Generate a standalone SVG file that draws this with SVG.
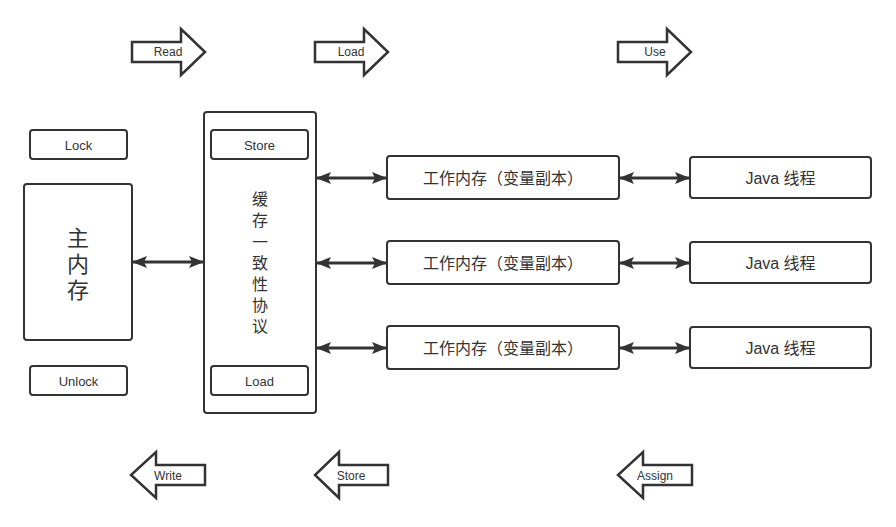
<svg xmlns="http://www.w3.org/2000/svg" width="896" height="527" viewBox="0 0 896 527">
<style>
.box{fill:#fff;stroke:#333;stroke-width:2}
.big{fill:#fff;stroke:#333;stroke-width:2.5;stroke-linejoin:miter}
.t{font-family:"Liberation Sans","Noto Sans CJK SC",sans-serif;fill:#333;text-anchor:middle;dominant-baseline:central}
.s{font-size:13px}
.a{font-size:12px}
.m{font-size:16px}
.c{stroke:#333;stroke-width:3;fill:none;marker-start:url(#ah);marker-end:url(#ah)}
</style>
<defs>
<marker id="ah" viewBox="0 0 15 12" refX="14" refY="6" markerWidth="15" markerHeight="12" markerUnits="userSpaceOnUse" orient="auto-start-reverse">
<path d="M0,0 L15,6 L0,12 L3,6 z" fill="#333"/>
</marker>
</defs>
<rect width="896" height="527" fill="#fff"/>

<g id="arrow-read"><path class="big" d="M132,42 H181 V29 L205,52 L181,75 V62 H132 Z"/><text class="t a" x="168" y="52">Read</text></g>
<g id="arrow-load"><path class="big" d="M315,42 H364 V29 L388,52 L364,75 V62 H315 Z"/><text class="t a" x="351" y="52">Load</text></g>
<g id="arrow-use"><path class="big" d="M618,42 H667 V29 L691,52 L667,75 V62 H618 Z"/><text class="t a" x="655" y="52">Use</text></g>

<g id="arrow-write"><path class="big" d="M205,465 H156 V452 L131,475 L156,498 V485 H205 Z"/><text class="t a" x="168" y="476">Write</text></g>
<g id="arrow-store"><path class="big" d="M388,465 H339 V452 L315,475 L339,498 V485 H388 Z"/><text class="t a" x="351" y="476">Store</text></g>
<g id="arrow-assign"><path class="big" d="M692,465 H643 V452 L618,475 L643,498 V485 H692 Z"/><text class="t a" x="655" y="476">Assign</text></g>

<g id="lock"><rect class="box" x="30" y="130" width="97" height="29" rx="3"/><text class="t s" x="78.5" y="145">Lock</text></g>
<g id="main-memory"><rect class="box" x="24" y="184" width="108" height="156" rx="3"/>
<text class="t" style="font-size:22px" x="78" y="238">主</text>
<text class="t" style="font-size:22px" x="78" y="264">内</text>
<text class="t" style="font-size:22px" x="78" y="290">存</text></g>
<g id="unlock"><rect class="box" x="30" y="366" width="97" height="29" rx="3"/><text class="t s" x="78.5" y="381">Unlock</text></g>

<g id="cache-protocol"><rect class="box" x="204" y="112" width="112" height="301" rx="3"/>
<text class="t m" x="260" y="199">缓</text>
<text class="t m" x="260" y="220">存</text>
<text class="t m" x="260" y="242">一</text>
<text class="t m" x="260" y="263">致</text>
<text class="t m" x="260" y="284">性</text>
<text class="t m" x="260" y="305">协</text>
<text class="t m" x="260" y="326">议</text></g>
<g id="store"><rect class="box" x="211" y="130" width="97" height="29" rx="3"/><text class="t s" x="259.5" y="145">Store</text></g>
<g id="load"><rect class="box" x="211" y="366" width="97" height="29" rx="3"/><text class="t s" x="259.5" y="381">Load</text></g>

<g id="work1"><rect class="box" x="387" y="156" width="232" height="43" rx="3"/><text class="t m" x="503" y="178">工作内存（变量副本）</text></g>
<g id="work2"><rect class="box" x="387" y="241" width="232" height="43" rx="3"/><text class="t m" x="503" y="263">工作内存（变量副本）</text></g>
<g id="work3"><rect class="box" x="387" y="326" width="232" height="43" rx="3"/><text class="t m" x="503" y="348">工作内存（变量副本）</text></g>

<g id="java1"><rect class="box" x="690" y="157" width="181" height="41" rx="3"/><text class="t m" x="780.5" y="178">Java 线程</text></g>
<g id="java2"><rect class="box" x="690" y="242" width="181" height="41" rx="3"/><text class="t m" x="780.5" y="263">Java 线程</text></g>
<g id="java3"><rect class="box" x="690" y="327" width="181" height="41" rx="3"/><text class="t m" x="780.5" y="348">Java 线程</text></g>

<g id="connectors">
<line class="c" x1="133" y1="262" x2="203" y2="262"/>
<line class="c" x1="317" y1="178" x2="386" y2="178"/>
<line class="c" x1="317" y1="263" x2="386" y2="263"/>
<line class="c" x1="317" y1="348" x2="386" y2="348"/>
<line class="c" x1="620" y1="178" x2="689" y2="178"/>
<line class="c" x1="620" y1="263" x2="689" y2="263"/>
<line class="c" x1="620" y1="348" x2="689" y2="348"/>
</g>
</svg>
